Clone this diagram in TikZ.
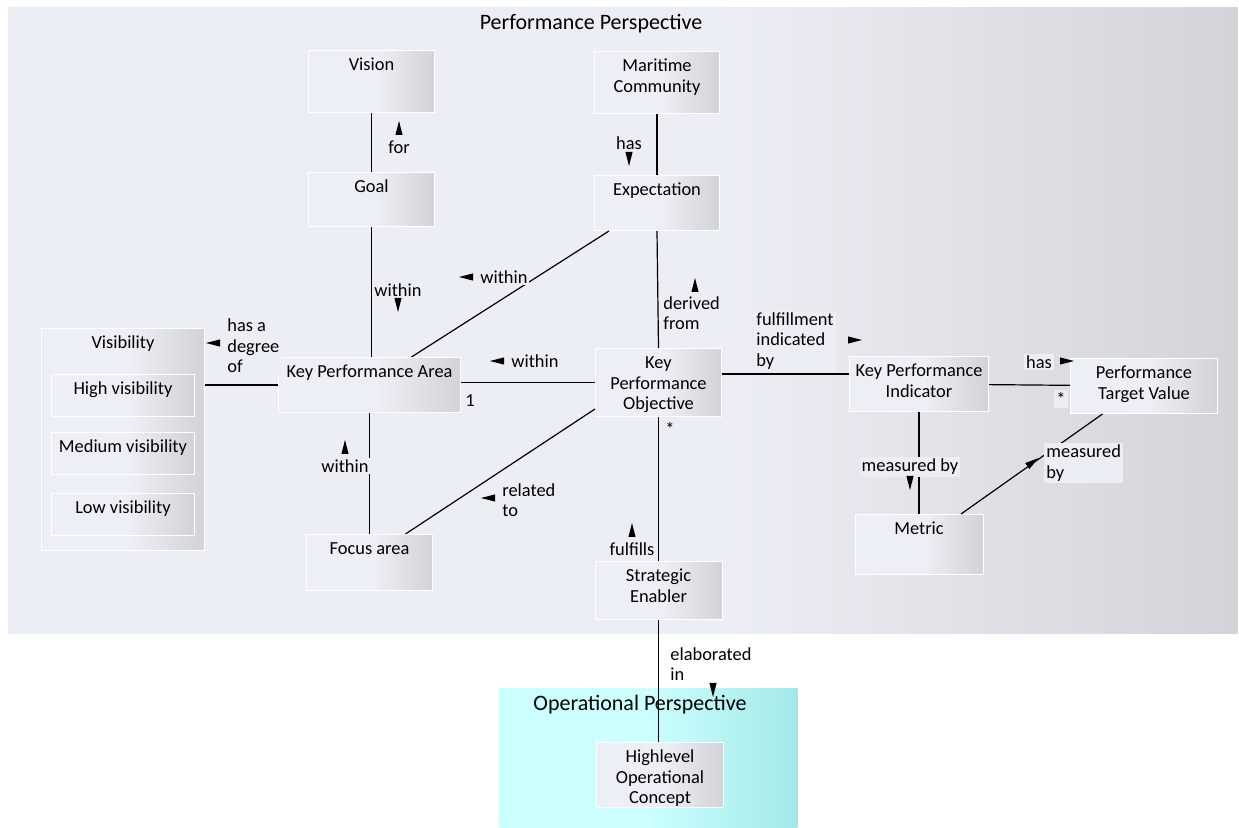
\documentclass[tikz,border=0pt]{standalone}
\usepackage{fontspec}
\setmainfont{Carlito}
\usetikzlibrary{positioning}

\definecolor{perfL}{HTML}{ECEEF5}
\definecolor{perfR}{HTML}{D3D4D8}
\definecolor{boxL}{HTML}{EDEFF6}
\definecolor{boxR}{HTML}{D2D3D7}
\definecolor{opL}{HTML}{CCFFFF}
\definecolor{opR}{HTML}{A4E8E8}

\pgfdeclarehorizontalshading{perfshade}{100bp}{color(0bp)=(perfL); color(54bp)=(perfL); color(75bp)=(perfR); color(100bp)=(perfR)}
\pgfdeclarehorizontalshading{boxshade}{100bp}{color(0bp)=(boxL); color(52bp)=(boxL); color(75bp)=(boxR); color(100bp)=(boxR)}
\pgfdeclarehorizontalshading{opshade}{100bp}{color(0bp)=(opL); color(50bp)=(opL); color(75bp)=(opR); color(100bp)=(opR)}

\newcommand{\boxfont}{\fontsize{9.2}{10.25}\selectfont}
\newcommand{\titlefont}{\fontsize{11}{13}\selectfont}
% small filled triangle giving the reading direction of an association
\newcommand{\dirmark}[2]{\fill[shift={#1}, rotate=#2] (3.5pt,0) -- (-3.5pt,1.8pt) -- (-3.5pt,-1.8pt) -- cycle;}

\tikzset{
    %Define style for the perspectives
    perspective/.style={
      rectangle,
      inner sep=0pt,
      anchor=north west},
    ptitle/.style={
      font=\titlefont,
      anchor=base},
    %Define style for classes, text sits at the top
    classbox/.style={
      rectangle,
      draw=white, line width=0.5pt,
      shade, shading=boxshade,
      inner xsep=1pt, inner ysep=0pt,
      text height=10.25pt,
      align=flush center,
      font=\boxfont},
    % Define association style
    assoc/.style={
      line width=0.6pt,
      black},
    % association names and multiplicities
    lbl/.style={
      fill=perfL,
      inner sep=1pt,
      align=left,
      font=\boxfont}
}

\begin{document}
\begin{tikzpicture}[x=0.5pt, y=-0.5pt]
    \useasboundingbox (0,0) rectangle (1239,828);

    \node[perspective, shade, shading=perfshade, minimum width=614.5pt, minimum height=313pt] (perf) at (8,7) {};
    \node[ptitle] (perftitle) at (591,30) {Performance Perspective};
    \node[perspective, shade, shading=opshade, minimum width=149pt, minimum height=70pt] (oper) at (499,688) {};
    \node[ptitle] (opertitle) at (640,711) {Operational Perspective};

    \node[classbox, anchor=north west, text width=61pt, text depth=20.75pt] (vision) at (308,50) {Vision};
    \node[classbox, below=29.5pt of vision, text width=61pt, text depth=16.75pt] (goal) {Goal};

    \node[classbox, anchor=north west, text width=60.5pt, text depth=20.75pt] (maritime) at (594,51) {Maritime\\Community};
    \node[classbox, below=30.5pt of maritime, text width=60.5pt, text depth=17.25pt] (expect) {Expectation};

    \node[classbox, anchor=north west, text width=79.5pt, text depth=100.75pt] (visib) at (41,328) {Visibility};
    \node[classbox, anchor=north west, text width=69.5pt, text depth=10.75pt] (highvis) at (51,374) {High visibility};
    \node[classbox, below=7.5pt of highvis, text width=69.5pt, text depth=10.75pt] (medvis) {Medium visibility};
    \node[classbox, below=9pt of medvis, text width=69.5pt, text depth=10.75pt] (lowvis) {Low visibility};

    \node[classbox, anchor=north west, text width=89pt, text depth=17.25pt] (kpa) at (278,357) {Key Performance Area};
    \node[classbox, below=60.5pt of kpa, text width=61pt, text depth=17.75pt] (focus) {Focus area};

    \node[classbox, anchor=north west, text width=61pt, text depth=23.75pt] (kpo) at (595,348) {Key\\Performance\\Objective};
    \node[classbox, below=72pt of kpo, text width=61.5pt, text depth=18.75pt] (enabler) {Strategic\\Enabler};

    \node[classbox, anchor=north west, text width=67.5pt, text depth=17.25pt] (kpi) at (849,356) {Key Performance\\Indicator};
    \node[classbox, below=51pt of kpi, text width=62pt, text depth=19.75pt] (metric) {Metric};
    \node[classbox, anchor=north west, text width=71.5pt, text depth=17.25pt] (ptv) at (1070,358) {Performance\\Target Value};

    \node[classbox, anchor=north west, text width=61.5pt, text depth=22.25pt] (hoc) at (596,742) {Highlevel\\Operational\\Concept};

    % associations
    \draw[assoc] (vision) -- (goal);
    \draw[assoc] (goal.south) -- (goal.south |- kpa.north);
    \draw[assoc] (maritime) -- (expect);
    \draw[assoc] ([xshift=-24pt]expect.south) -- ([xshift=21pt]kpa.north);
    \draw[assoc] (expect.south) -- (kpo.north);
    \draw[assoc] (kpa.west) -- (kpa.west -| visib.east);
    \draw[assoc] (kpo.west) -- (kpo.west -| kpa.east);
    \draw[assoc] (focus.north) -- (focus.north |- kpa.south);
    \draw[assoc] ([yshift=4pt]kpo.south west) -- ([xshift=18pt]focus.north);
    \draw[assoc] ([yshift=5pt]kpi.west) -- ([yshift=5pt]kpi.west -| kpo.east);
    \draw[assoc] (kpi) -- (ptv);
    \draw[assoc] (kpi) -- (metric);
    \draw[assoc] ([xshift=21pt]metric.north) -- ([xshift=-20.75pt]ptv.south);
    \draw[assoc] (kpo) -- (enabler);
    \draw[assoc] (enabler.south) -- (enabler.south |- hoc.north);

    % association names
    \node[lbl] (l_for) at (399,147) {for};
    \dirmark{(399,128)}{90}
    \node[lbl] (l_has) at (629,143) {has};
    \dirmark{(629,159)}{270}
    \node[lbl] (l_goalkpa) at (398,290) {within};
    \dirmark{(398,305)}{270}
    \node[lbl, anchor=west] (l_expkpa) at (478,277) {within};
    \dirmark{(466,277)}{180}
    \node[lbl, anchor=west] (l_derived) at (661,313) {derived\\from};
    \dirmark{(695,285)}{90}
    \node[lbl, anchor=west] (l_degree) at (225,346) {has a\\degree\\of};
    \dirmark{(213,343)}{180}
    \node[lbl] (l_kpakpo) at (535,361) {within};
    \dirmark{(497,361)}{180}
    \node[lbl] (l_focus) at (345,466) {within};
    \dirmark{(345,447)}{90}
    \node[lbl, anchor=west] (l_related) at (500,500) {related\\to};
    \dirmark{(488,498)}{180}
    \node[lbl, anchor=west] (l_fulfil) at (754,341) {fulfillment\\indicated\\by};
    \dirmark{(855,340)}{0}
    \node[lbl] (l_hastarget) at (1039,362) {has};
    \dirmark{(1067,361)}{0}
    \node[lbl] (l_measured) at (910,467) {measured by};
    \dirmark{(910,483)}{270}
    \node[lbl, anchor=west] (l_measuredby) at (1044,463) {measured\\by};
    \dirmark{(1033,462)}{35}
    \node[lbl] (l_fulfills) at (632,549) {fulfills};
    \dirmark{(632,530)}{90}
    \node[lbl, fill=none, anchor=west] (l_elab) at (668,664) {elaborated\\in};
    \dirmark{(713,690)}{270}

    % multiplicities
    \node[lbl] (m_kpa) at (470,401) {1};
    \node[lbl] (m_kpo) at (670,429) {*};
    \node[lbl] (m_ptv) at (1061,399) {*};
\end{tikzpicture}
\end{document}
